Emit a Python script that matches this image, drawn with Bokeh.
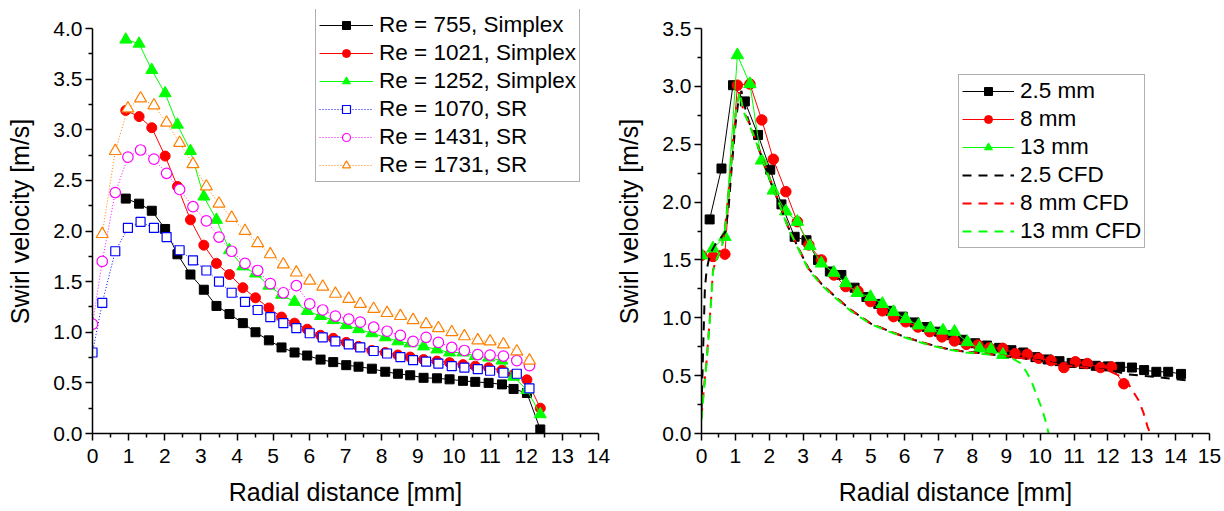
from bokeh.plotting import figure
from bokeh.layouts import row
from bokeh.models import Range1d, FixedTicker, PrintfTickFormatter, Legend, LegendItem
from bokeh.embed import file_html
from bokeh.resources import INLINE

FONT = "Liberation Sans"

# ---------------- Left panel data ----------------
x_simplex = [0.92, 1.29, 1.64, 2.01, 2.35, 2.71, 3.08, 3.43, 3.79, 4.16, 4.51, 4.88, 5.23,
             5.59, 5.94, 6.31, 6.66, 7.02, 7.36, 7.73, 8.10, 8.45, 8.79, 9.16, 9.53, 9.88,
             10.25, 10.59, 10.96, 11.33, 11.65, 12.02, 12.39]
re755 = [2.32, 2.27, 2.20, 2.02, 1.77, 1.57, 1.42, 1.26, 1.18, 1.09, 1.00, 0.92, 0.85, 0.80,
         0.77, 0.73, 0.705, 0.675, 0.66, 0.64, 0.61, 0.59, 0.575, 0.55, 0.545, 0.535, 0.52,
         0.51, 0.50, 0.485, 0.44, 0.40, 0.04]
re1021 = [3.19, 3.13, 3.02, 2.74, 2.44, 2.11, 1.86, 1.68, 1.57, 1.44, 1.34, 1.24, 1.15, 1.09,
          1.03, 0.97, 0.94, 0.90, 0.86, 0.82, 0.80, 0.775, 0.755, 0.73, 0.715, 0.70, 0.68,
          0.665, 0.65, 0.625, 0.58, 0.53, 0.25]
re1252 = [3.89, 3.85, 3.59, 3.36, 3.05, 2.79, 2.34, 2.11, 1.81, 1.65, 1.58, 1.46, 1.37, 1.30,
          1.21, 1.16, 1.12, 1.07, 1.03, 0.99, 0.95, 0.91, 0.89, 0.86, 0.83, 0.80, 0.80, 0.765,
          0.75, 0.72, 0.56, 0.43, 0.19]
x_sr = [0.0, 0.27, 0.63, 0.98, 1.33, 1.70, 2.05, 2.41, 2.78, 3.15, 3.50, 3.85, 4.22, 4.57,
        4.92, 5.28, 5.64, 6.01, 6.37, 6.72, 7.09, 7.41, 7.78, 8.15, 8.52, 8.87, 9.23, 9.57,
        9.94, 10.29, 10.66, 11.00, 11.37, 11.74, 12.09]
re1070 = [0.80, 1.29, 1.80, 2.03, 2.09, 2.03, 1.94, 1.81, 1.71, 1.61, 1.50, 1.39, 1.30, 1.22,
          1.15, 1.09, 1.04, 0.99, 0.95, 0.91, 0.88, 0.85, 0.815, 0.79, 0.755, 0.725, 0.71,
          0.69, 0.665, 0.65, 0.635, 0.62, 0.60, 0.59, 0.445]
re1431 = [1.08, 1.70, 2.38, 2.73, 2.80, 2.71, 2.57, 2.41, 2.24, 2.10, 1.94, 1.80, 1.68, 1.61,
          1.48, 1.39, 1.46, 1.28, 1.22, 1.16, 1.13, 1.10, 1.05, 1.01, 0.97, 0.91, 0.95, 0.90,
          0.85, 0.82, 0.78, 0.775, 0.765, 0.72, 0.67]
x_sr1731 = x_sr[1:]
re1731 = [1.97, 2.79, 3.21, 3.31, 3.24, 3.07, 2.87, 2.66, 2.44, 2.27, 2.13, 2.00, 1.88, 1.77,
          1.67, 1.59, 1.51, 1.45, 1.38, 1.33, 1.28, 1.23, 1.19, 1.16, 1.12, 1.08, 1.04, 1.00,
          0.96, 0.92, 0.91, 0.88, 0.81, 0.72]

# ---------------- Right panel data ----------------
x_25 = [0.24, 0.59, 0.93, 1.28, 1.67, 2.03, 2.36, 2.75, 3.10, 3.44, 3.79, 4.13, 4.52, 4.87,
        5.22, 5.58, 5.94, 6.29, 6.65, 7.01, 7.36, 7.72, 8.08, 8.43, 8.79, 9.15, 9.50, 9.86,
        10.22, 10.57, 10.93, 11.29, 11.64, 12.00, 12.36, 12.71, 13.07, 13.43, 13.78, 14.16]
v_25 = [1.85, 2.29, 3.01, 2.87, 2.58, 2.28, 1.98, 1.70, 1.67, 1.50, 1.40, 1.37, 1.26, 1.18,
        1.12, 1.06, 1.01, 0.96, 0.92, 0.88, 0.85, 0.81, 0.78, 0.76, 0.74, 0.72, 0.70, 0.66,
        0.64, 0.625, 0.61, 0.60, 0.585, 0.58, 0.576, 0.57, 0.548, 0.533, 0.533, 0.515]
x_8 = [0.0, 0.34, 0.69, 1.06, 1.43, 1.78, 2.12, 2.49, 2.83, 3.17, 3.54, 3.91, 4.26, 4.62,
       4.99, 5.34, 5.67, 6.03, 6.39, 6.74, 7.10, 7.47, 7.82, 8.16, 8.50, 8.90, 9.26, 9.62,
       9.96, 10.32, 10.70, 11.04, 11.39, 11.78, 12.11, 12.47]
v_8 = [1.54, 1.53, 1.55, 3.01, 3.02, 2.71, 2.37, 2.09, 1.83, 1.63, 1.50, 1.37, 1.27, 1.23,
       1.14, 1.06, 1.01, 0.965, 0.92, 0.88, 0.835, 0.80, 0.77, 0.765, 0.74, 0.735, 0.69,
       0.685, 0.65, 0.63, 0.57, 0.62, 0.605, 0.57, 0.575, 0.43]
x_13 = [0.0, 0.34, 0.69, 1.06, 1.43, 1.77, 2.12, 2.49, 2.83, 3.20, 3.54, 3.91, 4.26, 4.60,
        4.99, 5.34, 5.67, 6.03, 6.41, 6.76, 7.13, 7.47, 7.85, 8.21, 8.55, 8.90]
v_13 = [1.54, 1.60, 1.70, 3.27, 3.02, 2.36, 2.10, 1.92, 1.83, 1.62, 1.47, 1.39, 1.30, 1.215,
        1.18, 1.12, 1.05, 0.99, 0.935, 0.91, 0.89, 0.88, 0.79, 0.735, 0.725, 0.68]

cfd25_x = [0.0, 0.05, 0.10, 0.15, 0.25, 0.40, 0.50, 0.60, 0.70, 0.80, 0.90, 1.00, 1.10, 1.18,
           1.25, 1.35, 1.50, 1.70, 1.90, 2.10, 2.30, 2.55, 2.85, 3.15, 3.55, 4.00, 4.40, 5.00,
           5.50, 6.00, 6.60, 7.20, 7.80, 8.40, 9.00, 9.50, 10.0, 10.5, 11.0, 11.5, 12.0, 12.6,
           13.0, 13.4, 14.0, 14.3]
cfd25_y = [0.20, 0.75, 1.25, 1.41, 1.55, 1.63, 1.67, 1.70, 1.74, 1.95, 2.33, 2.66, 2.90, 2.96,
           2.86, 2.74, 2.61, 2.45, 2.29, 2.13, 1.98, 1.79, 1.61, 1.43, 1.29, 1.17, 1.07, 0.95,
           0.89, 0.835, 0.78, 0.735, 0.705, 0.69, 0.665, 0.65, 0.63, 0.605, 0.585, 0.565,
           0.55, 0.51, 0.50, 0.49, 0.47, 0.46]
cfd8_x = [0.0, 0.05, 0.15, 0.25, 0.34, 0.45, 0.59, 0.67, 0.74, 0.84, 0.93, 1.03, 1.13, 1.23,
          1.35, 1.52, 1.70, 1.90, 2.10, 2.30, 2.55, 2.85, 3.15, 3.55, 4.00, 4.40, 5.00, 5.50,
          6.00, 6.60, 7.20, 7.80, 8.40, 9.00, 9.50, 10.0, 10.5, 11.0, 11.5, 12.0, 12.3, 12.6,
          12.9, 13.05, 13.17, 13.25]
cfd8_y = [0.14, 0.32, 0.63, 1.01, 1.41, 1.52, 1.61, 1.72, 1.90, 2.19, 2.53, 2.82, 2.95, 2.80,
          2.72, 2.60, 2.46, 2.30, 2.14, 1.99, 1.79, 1.61, 1.43, 1.29, 1.17, 1.07, 0.95, 0.89,
          0.835, 0.78, 0.735, 0.705, 0.69, 0.67, 0.65, 0.625, 0.60, 0.58, 0.565, 0.545, 0.505,
          0.43, 0.29, 0.18, 0.06, 0.0]
cfd13_x = [0.0, 0.05, 0.15, 0.25, 0.34, 0.45, 0.59, 0.67, 0.74, 0.84, 0.93, 1.03, 1.13, 1.23,
           1.35, 1.52, 1.70, 1.90, 2.10, 2.30, 2.55, 2.85, 3.15, 3.55, 4.00, 4.40, 5.00, 5.50,
           6.00, 6.60, 7.20, 7.80, 8.40, 8.90, 9.20, 9.44, 9.60, 9.73, 9.90, 10.03, 10.15, 10.25]
cfd13_y = [0.12, 0.30, 0.61, 0.99, 1.40, 1.51, 1.60, 1.71, 1.89, 2.18, 2.52, 2.81, 2.95, 2.79,
           2.71, 2.59, 2.45, 2.29, 2.13, 1.98, 1.78, 1.60, 1.42, 1.28, 1.16, 1.06, 0.945,
           0.885, 0.83, 0.775, 0.73, 0.70, 0.685, 0.67, 0.645, 0.605, 0.53, 0.46, 0.33, 0.23,
           0.12, 0.0]

# ---------------- Axis ticks ----------------
left_xticks = list(range(0, 15))
left_xminor = [i + 0.5 for i in range(0, 14)]
left_yticks = [0.0, 0.5, 1.0, 1.5, 2.0, 2.5, 3.0, 3.5, 4.0]
left_yminor = [0.25, 0.75, 1.25, 1.75, 2.25, 2.75, 3.25, 3.75]
right_xticks = list(range(0, 16))
right_xminor = [i + 0.5 for i in range(0, 15)]
right_yticks = [0.0, 0.5, 1.0, 1.5, 2.0, 2.5, 3.0, 3.5]
right_yminor = [0.25, 0.75, 1.25, 1.75, 2.25, 2.75, 3.25]

X_LABEL = "Radial distance [mm]"
Y_LABEL = "Swirl velocity [m/s]"

# Axis spans 405 px; frames extend 19 px higher so the legend above the axis top is not clipped.
AXIS_PX = 405
FRAME_PX = 424


def make_fig(ymax_axis, xr, xt, xm, yt, ym, border_left, border_right, frame_w):
    ytop = ymax_axis * FRAME_PX / AXIS_PX
    p = figure(width=border_left + frame_w + border_right,
               height=9 + FRAME_PX + 75,
               x_range=Range1d(*xr), y_range=Range1d(0, ytop),
               output_backend="svg", toolbar_location=None,
               min_border_left=border_left, min_border_right=border_right,
               min_border_top=9, min_border_bottom=75,
               frame_width=frame_w, frame_height=FRAME_PX)
    p.background_fill_color = "white"
    p.border_fill_color = "white"
    p.outline_line_color = None
    p.xgrid.visible = False
    p.ygrid.visible = False
    p.xaxis.ticker = FixedTicker(ticks=xt, minor_ticks=xm)
    p.yaxis.ticker = FixedTicker(ticks=yt, minor_ticks=ym)
    p.yaxis.formatter = PrintfTickFormatter(format="%.1f")
    p.xaxis.formatter = PrintfTickFormatter(format="%d")
    p.yaxis.bounds = (0, ymax_axis)
    for ax in (p.xaxis[0], p.yaxis[0]):
        ax.axis_line_width = 1.5
        ax.axis_line_color = "black"
        ax.major_tick_line_width = 1.5
        ax.minor_tick_line_width = 1.5
        ax.major_tick_in = 0
        ax.minor_tick_in = 0
        ax.major_tick_out = 7
        ax.minor_tick_out = 4
        ax.major_label_text_font = FONT
        ax.major_label_text_font_size = "21px"
        ax.major_label_text_color = "black"
        ax.axis_label_text_font = FONT
        ax.axis_label_text_font_size = "25px"
        ax.axis_label_text_font_style = "normal"
        ax.axis_label_text_color = "black"
    p.xaxis.major_label_standoff = 8
    p.xaxis.axis_label_standoff = 12
    p.yaxis.major_label_standoff = 3
    p.yaxis.axis_label_standoff = 16
    p.xaxis.axis_label = X_LABEL
    p.yaxis.axis_label = Y_LABEL
    return p


def series(p, x, y, color, marker, size, dash, filled):
    ln = p.line(x, y, line_color=color, line_width=1, line_dash=dash)
    if filled:
        sc = p.scatter(x, y, marker=marker, size=size, fill_color=color, line_color=color,
                       line_width=1)
    else:
        sc = p.scatter(x, y, marker=marker, size=size, fill_color="white", line_color=color,
                       line_width=1.2)
    return [ln, sc]


def style_legend(lg):
    lg.label_text_font = FONT
    lg.label_text_font_size = "22.5px"
    lg.label_text_color = "black"
    lg.glyph_height = 20
    lg.label_height = 26
    lg.spacing = 2
    lg.padding = 3
    lg.margin = 0
    lg.label_standoff = 6
    lg.border_line_color = "#606060"
    lg.border_line_width = 1.3
    lg.background_fill_color = "white"
    lg.background_fill_alpha = 1.0


# ---------------- Left figure ----------------
pl = make_fig(4.0, (0, 14), left_xticks, left_xminor, left_yticks, left_yminor, 92, 14, 506)
items_l = []
items_l.append(LegendItem(label="Re = 755, Simplex",
                          renderers=series(pl, x_simplex, re755, "black", "square", 9, "solid", True)))
items_l.append(LegendItem(label="Re = 1021, Simplex",
                          renderers=series(pl, x_simplex, re1021, "#FF0000", "circle", 10, "solid", True)))
items_l.append(LegendItem(label="Re = 1252, Simplex",
                          renderers=series(pl, x_simplex, re1252, "#00FF00", "triangle", 12, "solid", True)))
items_l.append(LegendItem(label="Re = 1070, SR",
                          renderers=series(pl, x_sr, re1070, "#0000FF", "square", 9, "1 2", False)))
items_l.append(LegendItem(label="Re = 1431, SR",
                          renderers=series(pl, x_sr, re1431, "#FF00FF", "circle", 10.5, "1 2", False)))
items_l.append(LegendItem(label="Re = 1731, SR",
                          renderers=series(pl, x_sr1731, re1731, "#FF8000", "triangle", 12, "1 2", False)))
leg_l = Legend(items=items_l, location=(223, 251))
leg_l.glyph_width = 54
style_legend(leg_l)
pl.add_layout(leg_l)

# ---------------- Right figure ----------------
pr = make_fig(3.5, (0, 15), right_xticks, right_xminor, right_yticks, right_yminor, 88, 14, 508)
items_r = []
items_r.append(LegendItem(label="2.5 mm",
                          renderers=series(pr, x_25, v_25, "black", "square", 9, "solid", True)))
items_r.append(LegendItem(label="8 mm",
                          renderers=series(pr, x_8, v_8, "#FF0000", "circle", 10.5, "solid", True)))
items_r.append(LegendItem(label="13 mm",
                          renderers=series(pr, x_13, v_13, "#00FF00", "triangle", 12.5, "solid", True)))
c1 = pr.line(cfd25_x, cfd25_y, line_color="black", line_width=2, line_dash="9 7")
c2 = pr.line(cfd8_x, cfd8_y, line_color="#FF0000", line_width=2, line_dash="9 7")
c3 = pr.line(cfd13_x, cfd13_y, line_color="#00FF00", line_width=2, line_dash="9 7")
items_r.append(LegendItem(label="2.5 CFD", renderers=[c1]))
items_r.append(LegendItem(label="8 mm CFD", renderers=[c2]))
items_r.append(LegendItem(label="13 mm CFD", renderers=[c3]))
leg_r = Legend(items=items_r, location=(257, 185))
leg_r.glyph_width = 52
style_legend(leg_r)
pr.add_layout(leg_r)

layout = row(pl, pr, spacing=0)
open("out.html", "w").write(file_html(layout, INLINE))
